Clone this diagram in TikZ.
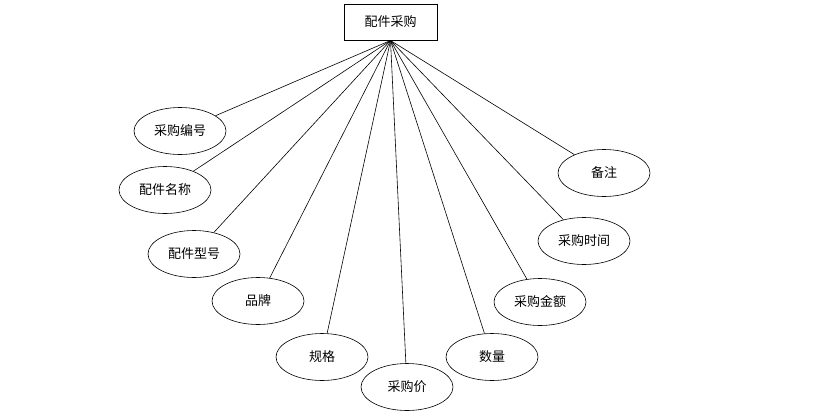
\documentclass[tikz,border=0pt]{standalone}
\usepackage{fontspec}
\newfontfamily\cjk{Noto Sans CJK SC}
\usetikzlibrary{shapes.geometric}
\begin{document}
\begin{tikzpicture}[x=1pt,y=-1pt,
  attr/.style={draw,ellipse,line width=0.6pt,minimum width=92pt,minimum height=47pt,inner sep=0pt,font=\cjk\fontsize{13}{15}\selectfont},
  ent/.style={draw,rectangle,line width=0.7pt,minimum width=93pt,minimum height=36pt,inner sep=0pt,font=\cjk\fontsize{13}{15}\selectfont},
  conn/.style={line width=0.6pt}]
\useasboundingbox[fill=white] (0,0) rectangle (821,415);
\node[ent] (top) at (390.5,22) {配件采购};
\coordinate (hub) at (390.5,40.5);
\node[attr] (a1) at (180,131) {采购编号};
\node[attr] (a2) at (165,190) {配件名称};
\node[attr] (a3) at (194,254) {配件型号};
\node[attr] (a4) at (258,301) {品牌};
\node[attr] (a5) at (322,357) {规格};
\node[attr] (a6) at (407,387) {采购价};
\node[attr] (a7) at (492,357) {数量};
\node[attr] (a8) at (540,302) {采购金额};
\node[attr] (a9) at (584,241) {采购时间};
\node[attr] (a10) at (604,173) {备注};
\foreach \n in {a1,a2,a3,a4,a5,a6,a7,a8,a9,a10}
  \draw[conn] (hub) -- (\n);
\end{tikzpicture}
\end{document}
